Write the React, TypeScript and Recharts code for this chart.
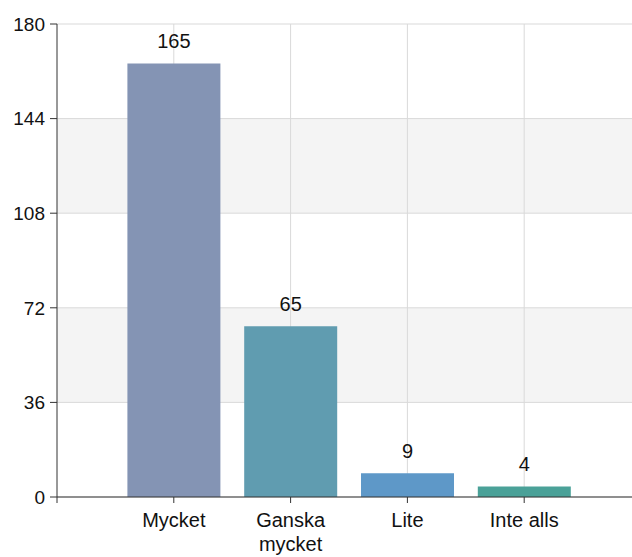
import React from 'react';
import { BarChart, Bar, XAxis, YAxis, CartesianGrid, Cell, LabelList } from 'recharts';

const categories = ['Mycket', 'Ganska mycket', 'Lite', 'Inte alls'];
const tickLines = [['Mycket'], ['Ganska', 'mycket'], ['Lite'], ['Inte alls']];
const values = [165, 65, 9, 4];
const positions = [1, 2, 3, 4];
const colors = ['#8494B4', '#609CB0', '#5E98C8', '#4AA198'];
const yTicks = [0, 36, 72, 108, 144, 180];
const xTicks = [0, 1, 2, 3, 4];

const data = categories.map((c, i) => ({ name: c, pos: positions[i], value: values[i] }));

const FONT = 'Arial, "Liberation Sans", sans-serif';

const XTick = (props: any) => {
  const { x, y, payload } = props;
  const idx = positions.indexOf(payload.value);
  const lines = idx >= 0 ? tickLines[idx] : [];
  return (
    <g>
      {lines.map((ln, i) => (
        <text
          key={i}
          x={x}
          y={y + 22 + i * 24}
          textAnchor="middle"
          fontFamily={FONT}
          fontSize={20}
          fill="#111"
        >
          {ln}
        </text>
      ))}
    </g>
  );
};

export default function App() {
  return (
    <div style={{ position: 'absolute', left: 0, top: 0, width: 632, height: 557, overflow: 'hidden', background: '#fff' }}>
      <BarChart
        width={641}
        height={557}
        data={data}
        margin={{ top: 24, right: 0, bottom: 0, left: 0 }}
      >
        <CartesianGrid
          stroke="#d9d9d9"
          horizontalFill={['#ffffff', '#f4f4f4']}
          verticalValues={positions}
        />
        <XAxis
          dataKey="pos"
          type="number"
          domain={[0, 5]}
          ticks={xTicks}
          height={60}
          tickSize={6}
          stroke="#333"
          tick={<XTick />}
          interval={0}
          allowDataOverflow
        />
        <YAxis
          width={57}
          domain={[0, 180]}
          ticks={yTicks}
          tickSize={7}
          tickMargin={5}
          stroke="#333"
          tick={{ fill: '#111', fontSize: 19, fontFamily: FONT }}
          interval={0}
        />
        <Bar dataKey="value" barSize={93} isAnimationActive={false}>
          {data.map((d, i) => (
            <Cell key={d.name} fill={colors[i]} />
          ))}
          <LabelList
            dataKey="value"
            position="top"
            offset={15}
            fill="#111"
            fontSize={20}
            fontFamily={FONT}
          />
        </Bar>
      </BarChart>
    </div>
  );
}
